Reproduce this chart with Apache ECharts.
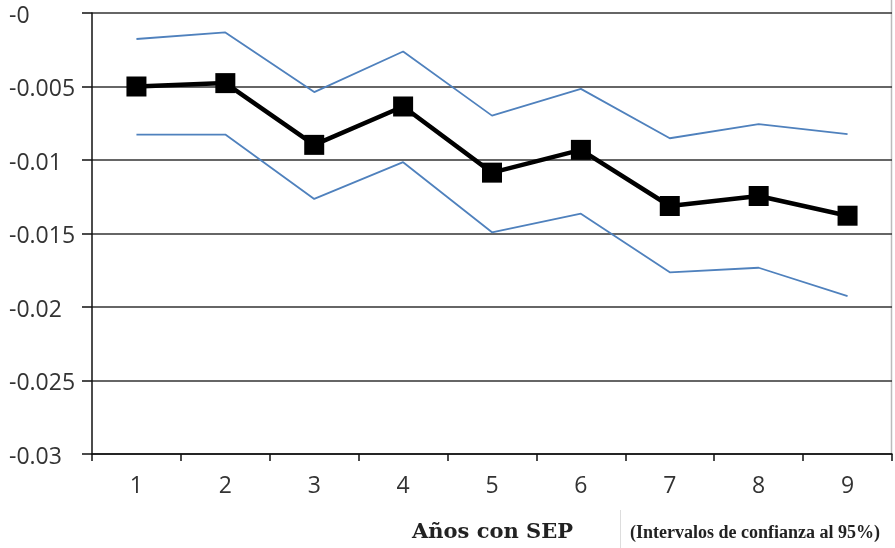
<!DOCTYPE html>
<html>
<head>
<meta charset="utf-8">
<script src="https://cdn.jsdelivr.net/npm/echarts@6/dist/echarts.min.js"></script>
<style>
  html, body { margin: 0; padding: 0; background: #fff; }
  #chart { width: 895px; height: 548px; }
</style>
</head>
<body>
<div id="chart"></div>
<script>
// Años con SEP (categories)
const years = ['1', '2', '3', '4', '5', '6', '7', '8', '9'];
// Point estimate
const estimate = [-0.0050, -0.00477, -0.00897, -0.00636, -0.01086, -0.00931, -0.01313, -0.01245, -0.01379];
// 95% confidence bounds
const upperBound = [-0.00177, -0.00132, -0.00538, -0.00262, -0.00698, -0.00516, -0.00852, -0.00756, -0.00824];
const lowerBound = [-0.00827, -0.00827, -0.01265, -0.01015, -0.01492, -0.01365, -0.01764, -0.01733, -0.01926];
// Y tick labels, top to bottom
const yTickValues = [0, -0.005, -0.01, -0.015, -0.02, -0.025, -0.03];
const yTickLabels = ['-0', '-0.005', '-0.01', '-0.015', '-0.02', '-0.025', '-0.03'];

const chart = echarts.init(document.getElementById('chart'));
const blue = '#4f81bd';
// Tick label text style (rich style so size and family are applied directly)
const tickText = { fontSize: 23, fontFamily: 'Open Sans', color: '#333' };

chart.setOption({
  animation: false,
  grid: { left: 92, right: 3, top: 13, bottom: 94 },
  xAxis: {
    type: 'category',
    data: years,
    boundaryGap: true,
    axisLine: { onZero: false, lineStyle: { color: '#111', width: 1.5 } },
    axisTick: { show: true, length: 7, lineStyle: { color: '#111', width: 1.5 } },
    axisLabel: {
      margin: 21,
      formatter: v => '{t|' + v + '}',
      rich: { t: tickText }
    }
  },
  yAxis: {
    type: 'value',
    min: -0.03,
    max: 0,
    interval: 0.005,
    axisLine: { show: true, lineStyle: { color: '#111', width: 1.5 } },
    axisTick: { show: true, length: 10, lineStyle: { color: '#111', width: 1.5 } },
    axisLabel: {
      margin: 83,
      align: 'left',
      formatter: function (v) {
        const i = yTickValues.findIndex(t => Math.abs(t - v) < 1e-9);
        return i >= 0 ? '{t|' + yTickLabels[i] + '}' : '';
      },
      rich: { t: Object.assign({}, tickText, { padding: [6, 0, 0, 0] }) }
    },
    splitLine: { show: true, lineStyle: { color: '#333', width: 1.5 } }
  },
  series: [
    {
      name: 'upper',
      type: 'line',
      data: upperBound,
      symbol: 'none',
      lineStyle: { color: blue, width: 1.8 },
      z: 2
    },
    {
      name: 'lower',
      type: 'line',
      data: lowerBound,
      symbol: 'none',
      lineStyle: { color: blue, width: 1.8 },
      z: 2
    },
    {
      name: 'estimate',
      type: 'line',
      data: estimate,
      symbol: 'rect',
      symbolSize: 20,
      itemStyle: { color: '#000' },
      lineStyle: { color: '#000', width: 4.5 },
      z: 3
    }
  ],
  graphic: [
    {
      type: 'line',
      shape: { x1: 891.5, y1: 0, x2: 891.5, y2: 455 },
      style: { stroke: '#bbb', lineWidth: 1.5 }
    },
    {
      type: 'line',
      shape: { x1: 620.5, y1: 510, x2: 620.5, y2: 548 },
      style: { stroke: '#ddd', lineWidth: 1 }
    },
    {
      type: 'text',
      left: 412,
      top: 522,
      style: {
        text: 'Años con SEP',
        font: 'bold 21px "DejaVu Serif"',
        fill: '#222'
      }
    },
    {
      type: 'text',
      left: 630,
      top: 524,
      style: {
        text: '(Intervalos de confianza al 95%)',
        font: 'bold 18px "Liberation Serif"',
        fill: '#222'
      }
    }
  ]
});
</script>
</body>
</html>
